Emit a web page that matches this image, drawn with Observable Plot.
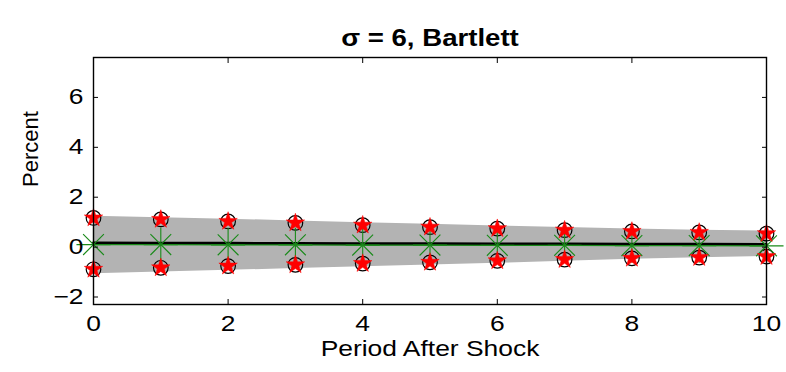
<!DOCTYPE html>
<html>
<head>
<meta charset="utf-8">
<script src="https://cdn.jsdelivr.net/npm/d3@7"></script>
<script src="https://cdn.jsdelivr.net/npm/@observablehq/plot@0.6"></script>
<style>
  html, body { margin: 0; padding: 0; background: #fff; }
  svg { display: block; }
</style>
</head>
<body>
<div id="chart"></div>
<script>
const titleText = "σ = 6, Bartlett";
const xLabel = "Period After Shock";
const yLabel = "Percent";
const periods = [0, 1, 2, 3, 4, 5, 6, 7, 8, 9, 10];
const bandUpper = [1.24, 1.18, 1.12, 1.05, 0.98, 0.92, 0.85, 0.79, 0.73, 0.68, 0.64];
const bandLower = [-1.07, -1.00, -0.93, -0.86, -0.79, -0.72, -0.65, -0.57, -0.49, -0.43, -0.37];
const ciUpper = [1.17, 1.11, 1.03, 0.97, 0.88, 0.80, 0.74, 0.68, 0.63, 0.59, 0.54];
const ciLower = [-0.89, -0.83, -0.76, -0.71, -0.66, -0.61, -0.55, -0.50, -0.45, -0.42, -0.38];
const pointEst = [0.16, 0.15, 0.15, 0.14, 0.13, 0.13, 0.12, 0.12, 0.11, 0.11, 0.10];
const simMean = [0.10, 0.10, 0.09, 0.09, 0.08, 0.08, 0.07, 0.07, 0.06, 0.06, 0.05];
const xTicks = [0, 2, 4, 6, 8, 10];
const yTicks = [-2, 0, 2, 4, 6];

const rows = periods.map((p, i) => ({
  p, hi: bandUpper[i], lo: bandLower[i], cu: ciUpper[i], cl: ciLower[i],
  est: pointEst[i], sim: simMean[i]
}));
const ciPts = rows.flatMap(d => [{p: d.p, v: d.cu}, {p: d.p, v: d.cl}]);

const green = "#1a8a1a";
const font = "Liberation Sans, Arial, Helvetica, sans-serif";

const plot = Plot.plot({
  width: 786,
  height: 372,
  marginLeft: 93,
  marginRight: 20,
  marginTop: 57,
  marginBottom: 68,
  style: {fontFamily: font, fontSize: "22px", color: "black", background: "white"},
  x: {domain: [0, 10]},
  y: {domain: [-2.3, 7.6]},
  marks: [
    Plot.areaY(rows, {x: "p", y1: "lo", y2: "hi", fill: "#b3b3b3"}),
    Plot.lineY(rows, {x: "p", y: "est", stroke: "black", strokeWidth: 3}),
    Plot.lineY(rows, {x: "p", y: "sim", stroke: green, strokeWidth: 1.2}),
    Plot.dot(ciPts, {x: "p", y: "v", r: 7.3, stroke: "black", strokeWidth: 1.2, fill: "none"}),
    Plot.dot(rows, {x: "p", y: "sim", symbol: "plus", r: 11, stroke: green, strokeWidth: 1.1}),
    Plot.dot(rows, {x: "p", y: "sim", symbol: "times", r: 9.5, stroke: green, strokeWidth: 1.1}),
    Plot.dot(ciPts, {x: "p", y: "v", symbol: "star", r: 5.8, fill: "#ff0000", stroke: "#ff0000", strokeWidth: 0.5}),
    Plot.frame({stroke: "black", strokeWidth: 1.4}),
    Plot.axisX(xTicks, {anchor: "bottom", tickSize: -5, tickPadding: 16, label: null, fontSize: 22, strokeWidth: 1}),
    Plot.axisX(xTicks, {anchor: "top", tickSize: -5, tickFormat: () => "", label: null, strokeWidth: 1}),
    Plot.axisY(yTicks, {anchor: "left", tickSize: -5, tickPadding: 15, label: null, fontSize: 22, strokeWidth: 1}),
    Plot.axisY(yTicks, {anchor: "right", tickSize: -5, tickFormat: () => "", label: null, strokeWidth: 1}),
    Plot.text([titleText], {frameAnchor: "top", dy: -28, fontSize: 23, fontWeight: "bold", text: d => d}),
    Plot.text([xLabel], {frameAnchor: "bottom", dy: 51, fontSize: 22, text: d => d}),
    Plot.text([yLabel], {frameAnchor: "left", dx: -63, dy: 6, rotate: -90, fontSize: 22, text: d => d})
  ]
});
document.getElementById("chart").appendChild(plot);

// widen horizontal glyphs to match the reference's rendering
plot.querySelectorAll("text").forEach(t => {
  const tr = t.getAttribute("transform") || "";
  if (/rotate/.test(tr)) return;
  const len = t.getComputedTextLength();
  if (len > 0) {
    t.setAttribute("textLength", (len * 1.2).toFixed(1));
    t.setAttribute("lengthAdjust", "spacingAndGlyphs");
  }
});
</script>
</body>
</html>
